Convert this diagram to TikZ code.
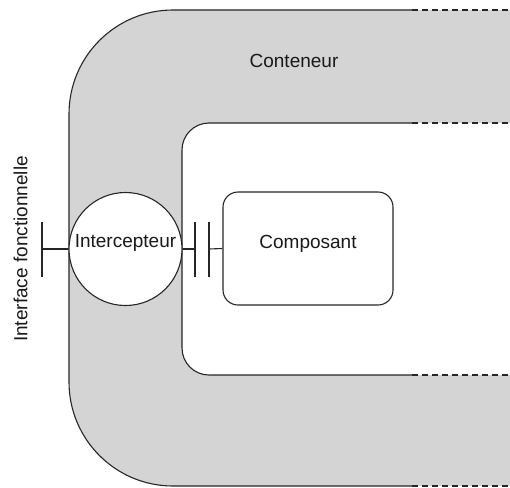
\documentclass[tikz,border=0pt]{standalone}
\usepackage{fontspec}
\setmainfont{Liberation Sans}
\begin{document}
\begin{tikzpicture}[x=1pt,y=-1pt,
  outline/.style={line width=1.1pt, draw=black!85},
  dashedge/.style={line width=1.1pt, draw=black!85, dash pattern=on 6pt off 4pt},
  lbl/.style={font=\fontsize{19}{22}\selectfont, text=black!90, inner sep=0pt},
  bar/.style={line width=1.1pt, draw=black!85}]
\useasboundingbox (0,0) rectangle (510,487);
\clip (0,0) rectangle (510,487);
\colorlet{contgray}{black!17}

% container band (grey U shape, open on the right)
\fill[contgray, even odd rule]
  [rounded corners=104pt] (620,10) -- (69,10) -- (69,486) -- (620,486) -- cycle
  [rounded corners=27pt] (620,123) -- (182,123) -- (182,375) -- (620,375) -- cycle;

% container outlines
\draw[outline, rounded corners=104pt] (412,10) -- (69,10) -- (69,486) -- (412,486);
\draw[outline, rounded corners=27pt] (412,123) -- (182,123) -- (182,375) -- (412,375);
\draw[dashedge] (412,10) -- (510,10);
\draw[dashedge] (412,123) -- (510,123);
\draw[dashedge] (412,375) -- (510,375);
\draw[dashedge] (412,486) -- (510,486);

\node[lbl] (cont) at (294,61) {Conteneur};

% interceptor and component
\node[circle, outline, fill=white, minimum size=113pt, inner sep=0pt] (icp) at (125.5,249) {};
\node[lbl] (icptxt) at (125.5,243) {Intercepteur};
\node[rectangle, outline, fill=white, rounded corners=15pt,
      minimum width=170pt, minimum height=113pt, inner sep=0pt] (comp) at (308,248.5) {};
\node[lbl] (comptxt) at (308,243.5) {Composant};

% functional interface (left)
\coordinate (fi) at (42,249);
\draw[bar] (icp.west) -- (fi);
\draw[bar] (42,222) -- (42,277);
\node[lbl, rotate=90] (fitxt) at (20.5,249) {Interface fonctionnelle};

% interceptor to component interface
\coordinate (ia) at (195,249);
\coordinate (ib) at (209,249);
\draw[bar] (icp.east) -- (ia);
\draw[bar] (195,222) -- (195,277);
\draw[bar] (209,222) -- (209,277);
\draw[bar] (ib) -- (comp.west);
\end{tikzpicture}
\end{document}
